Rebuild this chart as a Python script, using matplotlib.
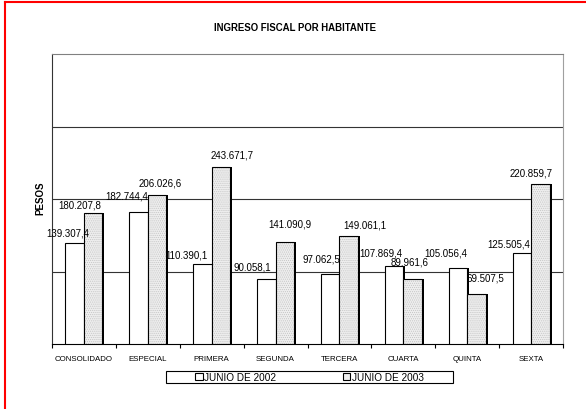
import matplotlib
matplotlib.use("Agg")
import matplotlib.pyplot as plt
from matplotlib.patches import Patch, Rectangle
from matplotlib.lines import Line2D
import numpy as np

plt.rcParams['font.family'] = ['Liberation Sans', 'DejaVu Sans']
plt.rcParams['hatch.linewidth'] = 0.5

categories = ["CONSOLIDADO", "ESPECIAL", "PRIMERA", "SEGUNDA", "TERCERA", "CUARTA", "QUINTA", "SEXTA"]
jun2002 = [139307.4, 182744.4, 110390.1, 90058.1, 97062.5, 107869.4, 105056.4, 125505.4]
jun2003 = [180207.8, 206026.6, 243671.7, 141090.9, 149061.1, 89961.6, 69507.5, 220859.7]
labels2002 = ["139.307,4", "182.744,4", "110.390,1", "90.058,1", "97.062,5", "107.869,4", "105.056,4", "125.505,4"]
labels2003 = ["180.207,8", "206.026,6", "243.671,7", "141.090,9", "149.061,1", "89.961,6", "69.507,5", "220.859,7"]
series_names = ["JUNIO DE 2002", "JUNIO DE 2003"]

# label offsets (pixels) relative to bar top centre -- styling only
dx02 = [-7, -12, -16, -14, -9, -13, -12, -13]
dy02 = [11, 16, 9, 12, 15, 13, 15, 10]
dx03 = [-13, 3, 11, 5, 16, -3, 9, -9]
dy03 = [9, 12, 13, 18, 11, 17, 16, 11]

W, H = 586, 410
fig = plt.figure(figsize=(W / 100, H / 100), dpi=100)
fig.patch.set_facecolor('white')

L, R, T, B = 52, 563, 55, 345
ax = fig.add_axes([L / W, 1 - B / H, (R - L) / W, (B - T) / H])

n = len(categories)
x = np.arange(n) + 0.5
bw = 0.29
shadow = 0.03

STIP_FACE = '#eeeeee'
STIP_DOT = '#c4c4c4'

# shadows
ax.bar(x - bw / 2 + shadow, jun2002, width=bw, color='black', zorder=2, linewidth=0)
ax.bar(x + bw / 2 + shadow, jun2003, width=bw, color='black', zorder=2, linewidth=0)
# 2002 bars
ax.bar(x - bw / 2, jun2002, width=bw, facecolor='white', edgecolor='black', linewidth=0.8, zorder=3)
# 2003 bars: stipple fill then outline
ax.bar(x + bw / 2, jun2003, width=bw, facecolor=STIP_FACE, edgecolor=STIP_DOT, hatch='........',
       linewidth=0, zorder=3)
ax.bar(x + bw / 2, jun2003, width=bw, fill=False, edgecolor='black', linewidth=0.8, zorder=4)

for i in range(n):
    ax.annotate(labels2002[i], (x[i] - bw / 2, jun2002[i]), xytext=(dx02[i], dy02[i]),
                textcoords='offset pixels', ha='center', va='center', fontsize=7, zorder=5)
    ax.annotate(labels2003[i], (x[i] + bw / 2, jun2003[i]), xytext=(dx03[i], dy03[i]),
                textcoords='offset pixels', ha='center', va='center', fontsize=7, zorder=5)

ax.set_xlim(0, n)
ax.set_ylim(0, 400000)
for g in [100000, 200000, 300000]:
    ax.axhline(g, color='#333333', linewidth=0.8, zorder=1)

ax.set_yticks([])
ax.set_xticks(np.arange(n + 1))
ax.set_xticklabels([])
ax.set_xticks(x, minor=True)
ax.set_xticklabels(categories, minor=True, fontsize=5.7)
ax.tick_params(axis='x', which='major', direction='out', length=3, width=0.8, color='black')
ax.tick_params(axis='x', which='minor', length=0, pad=8)

ax.spines['left'].set_color('#333333')
ax.spines['bottom'].set_color('black')
ax.spines['top'].set_color('#808080')
ax.spines['right'].set_color('#a0a0a0')
for s in ax.spines.values():
    s.set_linewidth(0.8)

fig.text(295 / W, 1 - 28 / H, "INGRESO FISCAL POR HABITANTE", ha='center', va='center',
         fontsize=6.9, fontweight='bold')
fig.text(40 / W, 1 - 198 / H, "PESOS", ha='center', va='center', rotation=90,
         fontsize=7, fontweight='bold')

# legend
handles = [Patch(facecolor='white', edgecolor='black', linewidth=0.8),
           Patch(facecolor=STIP_FACE, edgecolor='black', linewidth=0.8)]
leg = fig.legend(handles, series_names, loc='center', bbox_to_anchor=(309.5 / W, 1 - 378 / H),
                 ncol=2, frameon=False, fontsize=7.2, handlelength=0.75, handleheight=0.75,
                 handletextpad=0.2, columnspacing=6.6, borderpad=0)
fig.add_artist(Rectangle((166 / W, 1 - 384 / H), 287 / W, 12 / H, transform=fig.transFigure,
                         fill=False, edgecolor='black', linewidth=0.8))

# red page border
fig.add_artist(Line2D([5 / W, 1], [1 - 3 / H, 1 - 3 / H], transform=fig.transFigure,
                      color='#ff0000', linewidth=1.5))
fig.add_artist(Line2D([5 / W, 5 / W], [0, 1 - 3 / H], transform=fig.transFigure,
                      color='#ff0000', linewidth=1.5))

fig.savefig("out.png", dpi=100)
